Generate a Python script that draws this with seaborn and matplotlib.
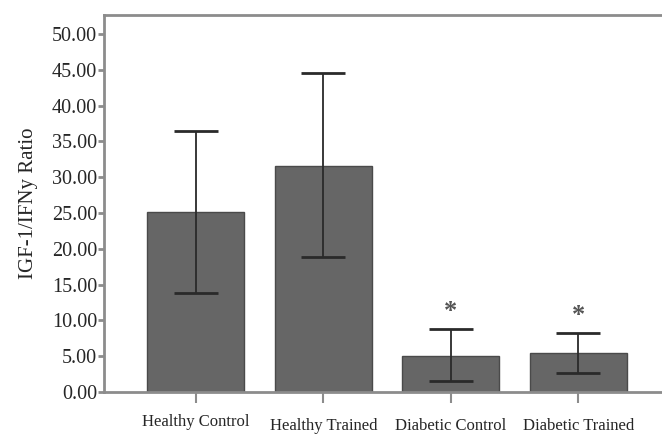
import numpy as np
import pandas as pd
import seaborn as sns
import matplotlib.pyplot as plt

# values
groups = ['Healthy Control', 'Healthy Trained', 'Diabetic Control', 'Diabetic Trained']
means = [25.1, 31.6, 5.0, 5.45]
err_low = [13.8, 18.8, 1.5, 2.65]
err_high = [36.5, 44.6, 8.8, 8.25]
signif = ['', '', '*', '*']
yticks = [0, 5, 10, 15, 20, 25, 30, 35, 40, 45, 50]

df = pd.DataFrame({'group': groups, 'ratio': means})

sns.set_style('white')
plt.rcParams['font.family'] = ['Liberation Serif', 'DejaVu Serif']

fig = plt.figure(figsize=(6.62, 4.34), dpi=100)
ax = fig.add_axes([104 / 662, 1 - 392 / 434, (670 - 104) / 662, (392 - 15) / 434])

sns.barplot(data=df, x='group', y='ratio', color='#666666', saturation=1,
            width=0.76, errorbar=None, edgecolor='#4a4a4a', linewidth=1, ax=ax)

xs = np.arange(len(groups))
lo = np.array(means) - np.array(err_low)
hi = np.array(err_high) - np.array(means)
ax.errorbar(xs, means, yerr=[lo, hi], fmt='none', ecolor='#2a2a2a',
            elinewidth=1.3, capsize=16, capthick=2)

for x, s, top in zip(xs, signif, err_high):
    if s:
        ax.text(x, top + 2.4, s, ha='center', va='center', fontsize=19,
                color='#555555', fontweight='bold')

ax.set_xlim(-0.72, 3.72)
ax.set_ylim(0, 52.65)
ax.set_yticks(yticks)
ax.set_yticklabels([f'{v:.2f}' for v in yticks], fontsize=14.5)
ax.set_xticks(xs)
ax.set_xticklabels(groups, fontsize=12)
for i, lab in enumerate(ax.get_xticklabels()):
    if i > 0:
        lab.set_y(-0.01)
ax.set_xlabel('')
ax.set_ylabel('IGF-1/IFNy Ratio', fontsize=15, labelpad=10)

for side in ['left', 'bottom', 'top', 'right']:
    ax.spines[side].set_color('#8c8c8c')
    ax.spines[side].set_linewidth(2)
ax.tick_params(axis='y', length=4, width=2, color='#8c8c8c', pad=1, left=True)
ax.tick_params(axis='x', length=8, width=1.5, color='#8c8c8c', pad=8, bottom=True)

fig.savefig('out.png', dpi=100)
